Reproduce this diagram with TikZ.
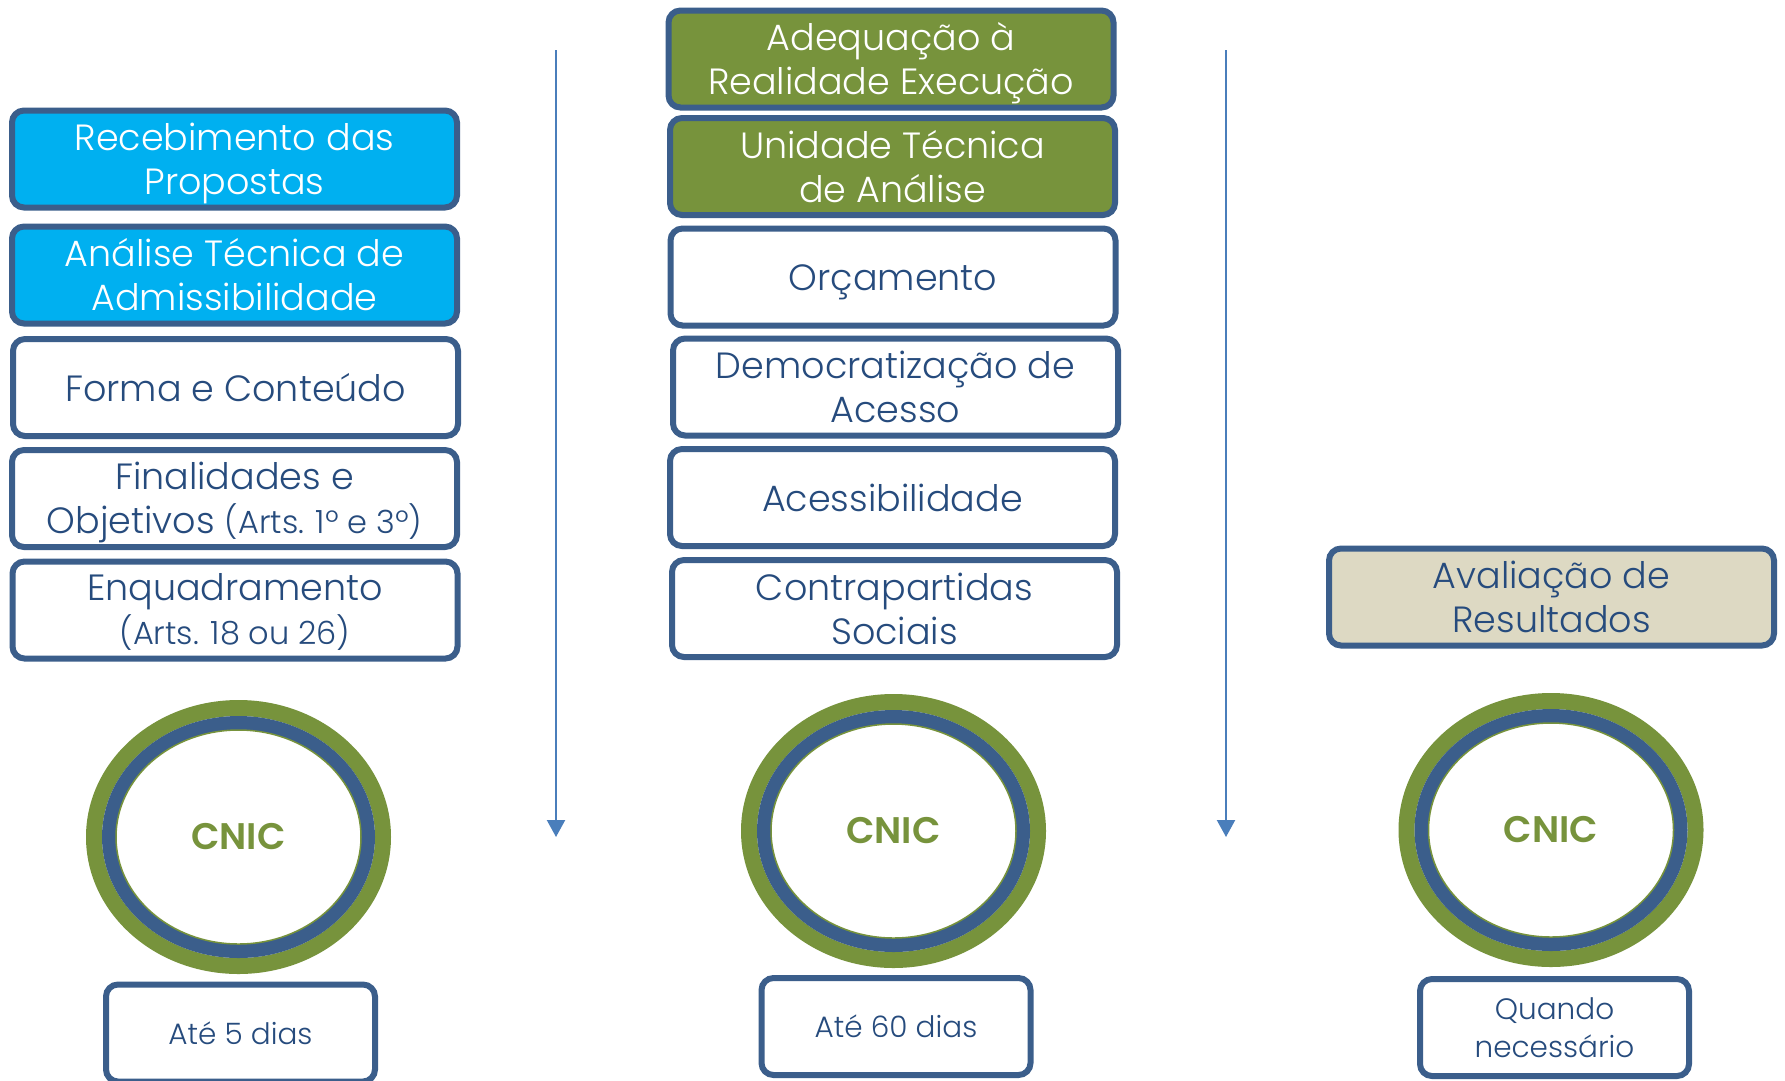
\documentclass[tikz,border=0pt]{standalone}
\usepackage{fontspec}
\setmainfont{Poppins}[UprightFont=* Light, BoldFont=* SemiBold]
\usetikzlibrary{arrows.meta,shapes.geometric}
\definecolor{bord}{HTML}{3B5E8B}
\definecolor{txt}{HTML}{264B7D}
\definecolor{cyanf}{HTML}{00B0F0}
\definecolor{oliv}{HTML}{77933C}
\definecolor{beige}{HTML}{DDD9C3}
\definecolor{arr}{HTML}{4A7EBB}
\newcommand{\mainsz}{\fontsize{36.5}{44}\selectfont}
\newcommand{\smallsz}{\fontsize{32}{44}\selectfont}
\newcommand{\datesz}{\fontsize{29.5}{38}\selectfont}
\newcommand{\lowertext}[2]{\raisebox{-#1}[\height][\depth]{\begin{tabular}{@{}c@{}}#2\end{tabular}}}
\tikzset{
  box/.style={draw=bord, line width=6pt, rounded corners=12pt, inner sep=0pt,
    align=center, font=\mainsz, text=txt, fill=white,
    minimum width=445pt, minimum height=97pt},
  bluebox/.style={box, fill=cyanf, text=white},
  greenbox/.style={box, fill=oliv, text=white},
  tanbox/.style={box, fill=beige},
  datebox/.style={box, font=\datesz, minimum width=269pt, minimum height=97pt},
  cnic/.style={ellipse, inner sep=0pt, minimum width=245pt, minimum height=214pt,
    fill=white, text=oliv, font=\fontsize{37}{40}\selectfont\bfseries},
  flow/.style={draw=arr, line width=2.2pt, -{Triangle[width=18pt,length=17pt]}}
}
\begin{document}
\begin{tikzpicture}[x=1pt,y=-1pt]
\clip (0,0) rectangle (1785,1080);
\fill[white] (0,0) rectangle (1785,1080);
% left column
\node[bluebox] (l1) at (234.5,159) {\lowertext{5pt}{Recebimento das\\Propostas}};
\node[bluebox] (l2) at (234.5,275) {Análise Técnica de\\Admissibilidade};
\node[box] (l3) at (235.5,387.5) {Forma e Conteúdo};
\node[box] (l4) at (234.5,498.5) {\lowertext{4pt}{Finalidades e\\Objetivos {\smallsz(Arts. 1º e 3º)}}};
\node[box] (l5) at (235,610) {\lowertext{4pt}{Enquadramento\\{\smallsz(Arts. 18 ou 26)}}};
% middle column
\node[greenbox] (m1) at (891,59) {\lowertext{5pt}{Adequação à\\Realidade Execução}};
\node[greenbox] (m2) at (892.5,166.5) {Unidade Técnica\\de Análise};
\node[box] (m3) at (893,277) {\lowertext{5pt}{Orçamento}};
\node[box] (m4) at (895.5,387) {Democratização de\\Acesso};
\node[box] (m5) at (892.5,497.5) {Acessibilidade};
\node[box] (m6) at (894.5,608.5) {Contrapartidas\\Sociais};
% right column
\node[tanbox] (r1) at (1551.5,597) {Avaliação de\\Resultados};
% CNIC ellipses
\foreach \n/\cx/\cy in {c1/238.5/837, c2/893.5/831, c3/1551/830}{
  \draw[oliv, line width=16pt] (\cx,\cy) ellipse [x radius=144.5, y radius=129];
  \draw[bord, line width=14pt] (\cx,\cy) ellipse [x radius=129.5, y radius=114];
  \node[cnic, draw=oliv, line width=1.5pt] (\n) at (\cx,\cy) {CNIC};
}
% date boxes
\node[datebox] (d1) at (240.5,1033) {Até 5 dias};
\node[datebox] (d2) at (896,1026.5) {Até 60 dias};
\node[datebox] (d3) at (1554.5,1027.5) {Quando\\necessário};
% arrows
\coordinate (a1s) at (556,50);
\coordinate (a1e) at (556,837);
\coordinate (a2s) at (1226,50);
\coordinate (a2e) at (1226,837);
\draw[flow] (a1s) -- (a1e);
\draw[flow] (a2s) -- (a2e);
\end{tikzpicture}
\end{document}
